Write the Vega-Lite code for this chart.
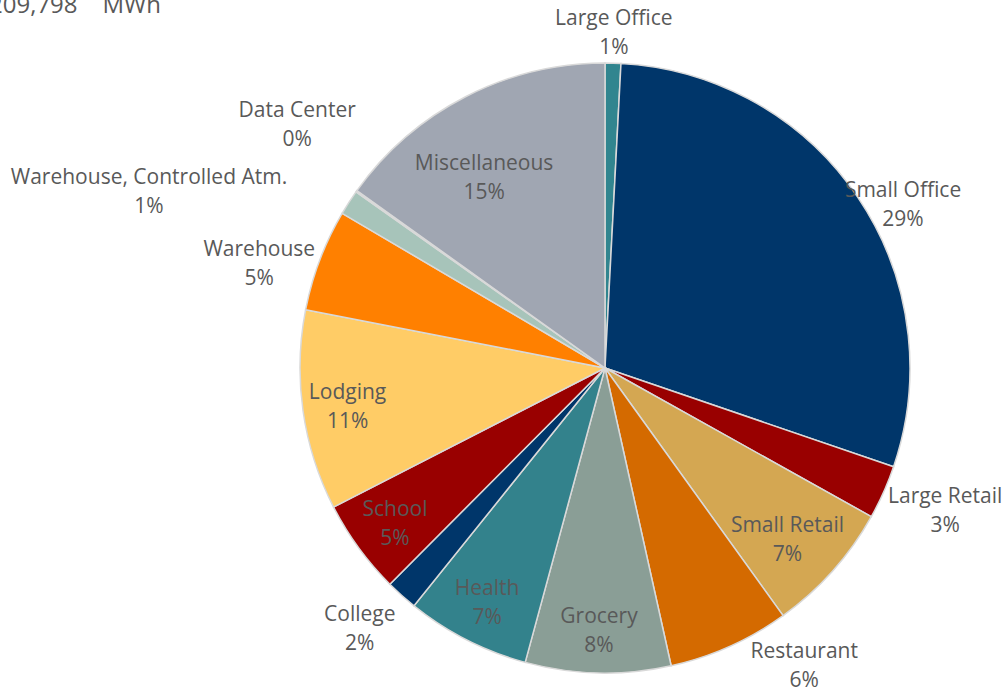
{
  "$schema": "https://vega.github.io/schema/vega-lite/v6.json",
  "autosize": "none",
  "width": 810,
  "height": 646,
  "padding": {"left": 200, "top": 45, "right": 0, "bottom": 0},
  "background": "white",
  "config": {
    "view": {"stroke": null},
    "text": {"font": "Open Sans", "fontSize": 21, "lineHeight": 29, "color": "#595959", "align": "center", "baseline": "middle", "dy": -11}
  },
  "title": {
    "text": "209,798\u00a0\u00a0\u00a0\u00a0MWh",
    "anchor": "start",
    "frame": "group",
    "font": "Open Sans",
    "fontSize": 24,
    "fontWeight": "normal",
    "color": "#595959",
    "baseline": "alphabetic",
    "offset": 0,
    "dx": -211,
    "dy": 29
  },
  "data": {
    "values": [
      {"category": "Large Office", "mwh": 1750},
      {"category": "Small Office", "mwh": 61700},
      {"category": "Large Retail", "mwh": 6000},
      {"category": "Small Retail", "mwh": 14630},
      {"category": "Restaurant", "mwh": 13520},
      {"category": "Grocery", "mwh": 16140},
      {"category": "Health", "mwh": 13750},
      {"category": "College", "mwh": 3555},
      {"category": "School", "mwh": 10490},
      {"category": "Lodging", "mwh": 22240},
      {"category": "Warehouse", "mwh": 11330},
      {"category": "Warehouse, Controlled Atm.", "mwh": 2800},
      {"category": "Data Center", "mwh": 175},
      {"category": "Miscellaneous", "mwh": 31718}
    ]
  },
  "transform": [
    {"window": [{"op": "row_number", "as": "idx"}]},
    {"joinaggregate": [{"op": "sum", "field": "mwh", "as": "total"}]},
    {"stack": "mwh", "groupby": [], "sort": [{"field": "idx"}], "as": ["t0", "t1"]},
    {"calculate": "(datum.t0 + datum.t1) / 2", "as": "mid"},
    {"calculate": "[datum.category, format(datum.mwh / datum.total, '.0%')]", "as": "label"}
  ],
  "layer": [
    {
      "mark": {"type": "arc", "outerRadius": 305, "stroke": "#d9d9d9", "strokeWidth": 1.5},
      "encoding": {
        "theta": {"field": "t0", "type": "quantitative", "scale": {"domain": [0, 209798]}},
        "theta2": {"field": "t1"},
        "color": {
          "field": "category",
          "type": "nominal",
          "legend": null,
          "scale": {
            "domain": ["Large Office", "Small Office", "Large Retail", "Small Retail", "Restaurant", "Grocery", "Health", "College", "School", "Lodging", "Warehouse", "Warehouse, Controlled Atm.", "Data Center", "Miscellaneous"],
            "range": ["#31858F", "#00366A", "#990000", "#D4A752", "#D46A00", "#8A9E96", "#33828C", "#00366A", "#990000", "#FFCC66", "#FF8000", "#A7C4BA", "#C9D9D3", "#A0A6B2"]
          }
        }
      }
    },
    {
      "transform": [{"filter": {"field": "category", "oneOf": ["Grocery", "Health", "School", "Lodging"]}}],
      "mark": {"type": "text", "radius": 260},
      "encoding": {"theta": {"field": "mid", "type": "quantitative"}, "text": {"field": "label"}}
    },
    {
      "transform": [{"filter": {"field": "category", "equal": "Small Retail"}}],
      "mark": {"type": "text", "radius": 249, "thetaOffset": 0.02},
      "encoding": {"theta": {"field": "mid", "type": "quantitative"}, "text": {"field": "label"}}
    },
    {
      "transform": [{"filter": {"field": "category", "equal": "Miscellaneous"}}],
      "mark": {"type": "text", "radius": 228, "thetaOffset": -0.084},
      "encoding": {"theta": {"field": "mid", "type": "quantitative"}, "text": {"field": "label"}}
    },
    {
      "transform": [{"filter": {"field": "category", "equal": "Large Office"}}],
      "mark": {"type": "text", "radius": 338},
      "encoding": {"theta": {"field": "mid", "type": "quantitative"}, "text": {"field": "label"}}
    },
    {
      "transform": [{"filter": {"field": "category", "equal": "Small Office"}}],
      "mark": {"type": "text", "radius": 341, "thetaOffset": 0.087},
      "encoding": {"theta": {"field": "mid", "type": "quantitative"}, "text": {"field": "label"}}
    },
    {
      "transform": [{"filter": {"field": "category", "equal": "Large Retail"}}],
      "mark": {"type": "text", "radius": 368, "thetaOffset": -0.028},
      "encoding": {"theta": {"field": "mid", "type": "quantitative"}, "text": {"field": "label"}}
    },
    {
      "transform": [{"filter": {"field": "category", "equal": "Restaurant"}}],
      "mark": {"type": "text", "radius": 356, "thetaOffset": -0.173},
      "encoding": {"theta": {"field": "mid", "type": "quantitative"}, "text": {"field": "label"}}
    },
    {
      "transform": [{"filter": {"field": "category", "equal": "College"}}],
      "mark": {"type": "text", "radius": 356, "thetaOffset": 0.03},
      "encoding": {"theta": {"field": "mid", "type": "quantitative"}, "text": {"field": "label"}}
    },
    {
      "transform": [{"filter": {"field": "category", "equal": "Warehouse"}}],
      "mark": {"type": "text", "radius": 362, "thetaOffset": -0.061},
      "encoding": {"theta": {"field": "mid", "type": "quantitative"}, "text": {"field": "label"}}
    },
    {
      "transform": [{"filter": {"field": "category", "equal": "Warehouse, Controlled Atm."}}],
      "mark": {"type": "text", "radius": 490, "thetaOffset": -0.199},
      "encoding": {"theta": {"field": "mid", "type": "quantitative"}, "text": {"field": "label"}}
    },
    {
      "transform": [{"filter": {"field": "category", "equal": "Data Center"}}],
      "mark": {"type": "text", "radius": 394, "thetaOffset": 0.056},
      "encoding": {"theta": {"field": "mid", "type": "quantitative"}, "text": {"field": "label"}}
    }
  ]
}
